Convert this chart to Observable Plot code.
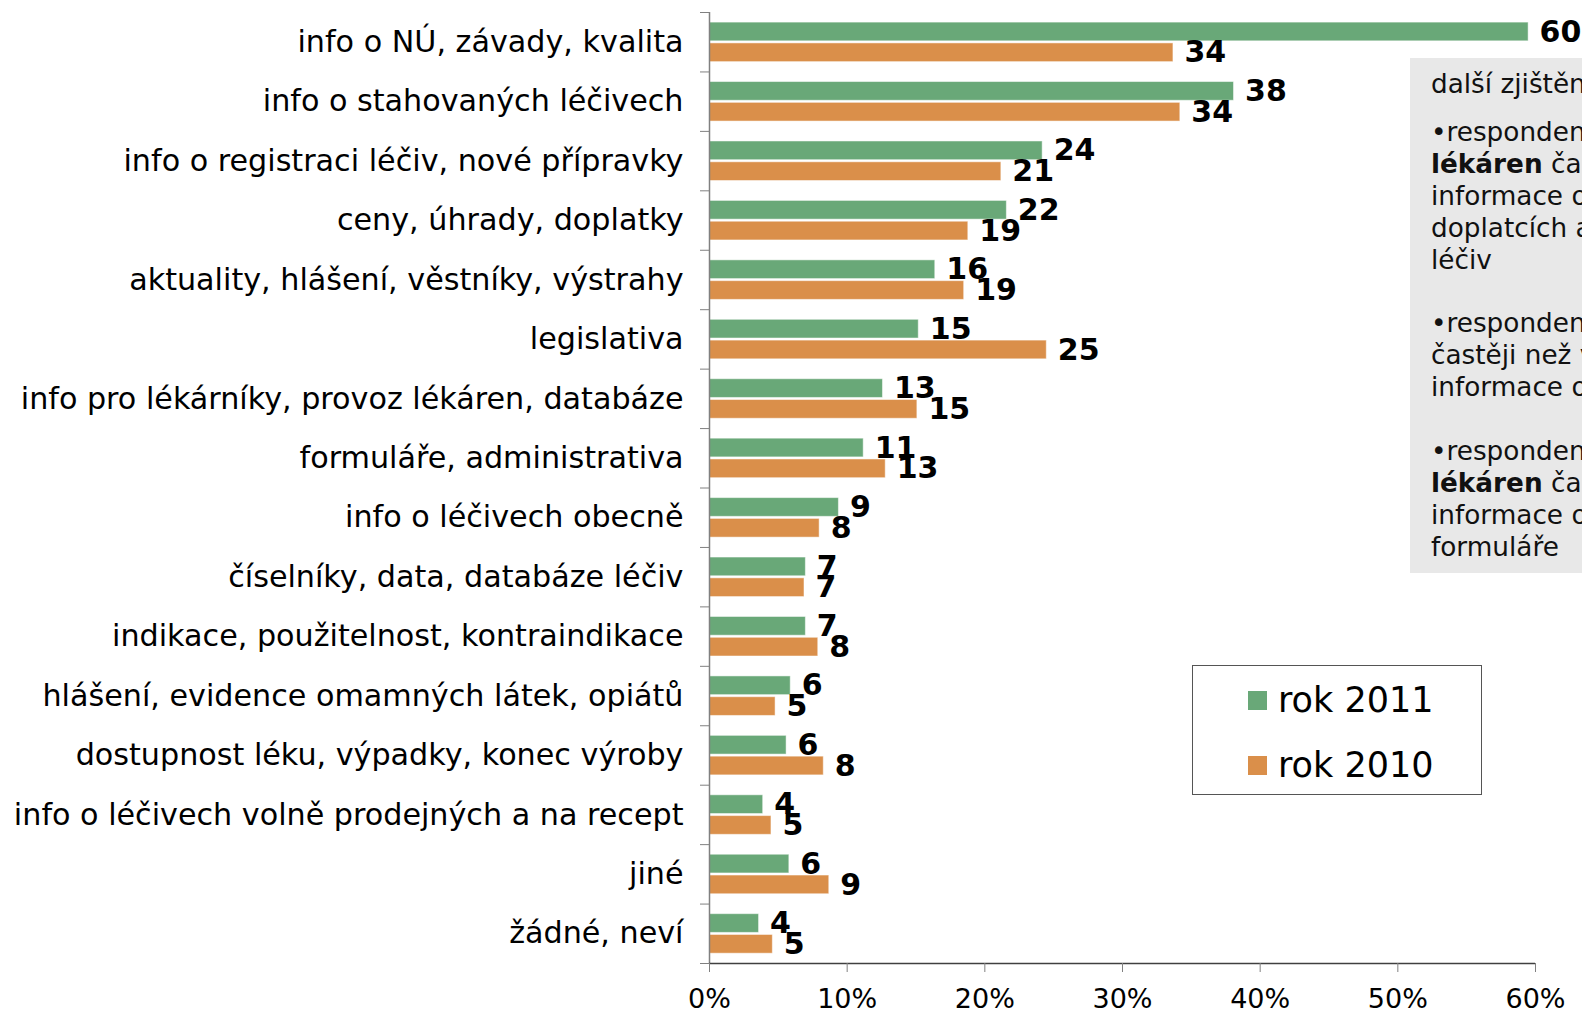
<!DOCTYPE html>
<html>
<head>
<meta charset="utf-8">
<script src="https://cdn.jsdelivr.net/npm/d3@7"></script>
<script src="https://cdn.jsdelivr.net/npm/@observablehq/plot@0.6"></script>
<style>
  html, body { margin: 0; padding: 0; background: #fff; overflow: hidden; }
  #wrap { position: relative; width: 1582px; height: 1015px; overflow: hidden; font-family: "DejaVu Sans", Verdana, sans-serif; }
  #chart { position: absolute; left: 0; top: 0; }
  #legend { position: absolute; left: 1192px; top: 665px; width: 288px; height: 128px; border: 1px solid #555; background: #fff; }
  .lrow { position: absolute; left: 0; height: 64px; display: flex; align-items: center; font-size: 35px; color: #000; }
  .sw { width: 19px; height: 19px; margin-left: 55px; margin-right: 11px; }
  #panel { position: absolute; left: 1410px; top: 58px; width: 320px; height: 515px; background: #e8e8e8; box-sizing: border-box; padding: 11px 0 0 21px; font-size: 26.3px; line-height: 31.9px; color: #111; white-space: nowrap; }
  #panel .head { margin-bottom: 16px; }
</style>
</head>
<body>
<div id="wrap">
  <div id="chart"></div>
  <div id="panel"></div>
  <div id="legend"></div>
</div>
<script>
// ---- data ----
const categories = [
  "info o NÚ, závady, kvalita",
  "info o stahovaných léčivech",
  "info o registraci léčiv, nové přípravky",
  "ceny, úhrady, doplatky",
  "aktuality, hlášení, věstníky, výstrahy",
  "legislativa",
  "info pro lékárníky, provoz lékáren, databáze",
  "formuláře, administrativa",
  "info o léčivech obecně",
  "číselníky, data, databáze léčiv",
  "indikace, použitelnost, kontraindikace",
  "hlášení, evidence omamných látek, opiátů",
  "dostupnost léku, výpadky, konec výroby",
  "info o léčivech volně prodejných a na recept",
  "jiné",
  "žádné, neví"
];
const values2011 = [59.5, 38.1, 24.2, 21.6, 16.4, 15.2, 12.6, 11.2, 9.4, 7.0, 7.0, 5.9, 5.6, 3.9, 5.8, 3.6];
const values2010 = [33.7, 34.2, 21.2, 18.8, 18.5, 24.5, 15.1, 12.8, 8.0, 6.9, 7.9, 4.8, 8.3, 4.5, 8.7, 4.6];
const seriesNames = ["rok 2011", "rok 2010"];
const xTicks = [0, 10, 20, 30, 40, 50, 60];

const panelLines = [
  [{t: "další zjištění:"}],
  [{t: "•respondenti z řad"}],
  [{t: "lékáren", b: true}, {t: " častěji hledají"}],
  [{t: "informace o cenách,"}],
  [{t: "doplatcích a úhradách"}],
  [{t: "léčiv"}],
  [],
  [{t: "•respondenti z řad lékařů"}],
  [{t: "častěji než v roce 2010"}],
  [{t: "informace o legislativě"}],
  [],
  [{t: "•respondenti z řad"}],
  [{t: "lékáren", b: true}, {t: " častěji hledají"}],
  [{t: "informace o databázích a"}],
  [{t: "formuláře"}]
];

// ---- styles ----
const colors = ["#69a878", "#da8f4a"];
const bandA = [0.17, 0.485];   // fraction of category band for 2011 bar
const bandB = [0.52, 0.835];   // fraction of category band for 2010 bar

const rows = categories.map((c, i) => ({i, c, a: values2011[i], b: values2010[i]}));

const chart = Plot.plot({
  width: 1582,
  height: 1015,
  marginLeft: 709,
  marginRight: 47,
  marginTop: 12,
  marginBottom: 52,
  style: {fontFamily: "DejaVu Sans, Verdana, sans-serif", color: "#000", background: "transparent"},
  x: {domain: [0, 60]},
  y: {domain: [0, categories.length], reverse: true},
  marks: [
    Plot.rect(rows, {x1: () => 0, x2: "a", y1: d => d.i + bandA[0], y2: d => d.i + bandA[1], fill: colors[0], stroke: "#ffffff", strokeOpacity: 0.5, strokeWidth: 1}),
    Plot.rect(rows, {x1: () => 0, x2: "b", y1: d => d.i + bandB[0], y2: d => d.i + bandB[1], fill: colors[1], stroke: "#ffffff", strokeOpacity: 0.5, strokeWidth: 1}),
    Plot.ruleX([0], {stroke: "#808080", strokeWidth: 1.5}),
    Plot.ruleY([categories.length], {stroke: "#404040", strokeWidth: 1.5}),
    Plot.axisY({ticks: d3.range(categories.length + 1), tickSize: 9, tickFormat: () => "", stroke: "#808080", label: null}),
    Plot.axisY({ticks: d3.range(categories.length).map(i => i + 0.5), tickSize: 0, tickPadding: 26, tickFormat: t => categories[Math.floor(t)], fontSize: 30.2, label: null}),
    Plot.axisX({ticks: xTicks, tickSize: 9, tickPadding: 16, tickFormat: d => d + "%", fontSize: 27, stroke: "#808080", label: null}),
    Plot.text(rows, {x: "a", y: d => d.i + (bandA[0] + bandA[1]) / 2, text: d => String(Math.round(d.a)), dx: 11, textAnchor: "start", fontWeight: "bold", fontSize: 30, fill: "#000"}),
    Plot.text(rows, {x: "b", y: d => d.i + (bandB[0] + bandB[1]) / 2, text: d => String(Math.round(d.b)), dx: 11, textAnchor: "start", fontWeight: "bold", fontSize: 30, fill: "#000"})
  ]
});
document.getElementById("chart").appendChild(chart);

// legend
const legend = document.getElementById("legend");
seriesNames.forEach((name, k) => {
  const row = document.createElement("div");
  row.className = "lrow";
  row.style.top = (2 + k * 65) + "px";
  const sw = document.createElement("div");
  sw.className = "sw";
  sw.style.background = colors[k];
  const tx = document.createElement("span");
  tx.textContent = name;
  row.appendChild(sw);
  row.appendChild(tx);
  legend.appendChild(row);
});

// side panel
const panel = document.getElementById("panel");
panelLines.forEach((parts, k) => {
  const div = document.createElement("div");
  if (k === 0) div.className = "head";
  if (parts.length === 0) div.innerHTML = "&nbsp;";
  parts.forEach(p => {
    const s = document.createElement(p.b ? "b" : "span");
    s.textContent = p.t;
    div.appendChild(s);
  });
  panel.appendChild(div);
});
</script>
</body>
</html>
